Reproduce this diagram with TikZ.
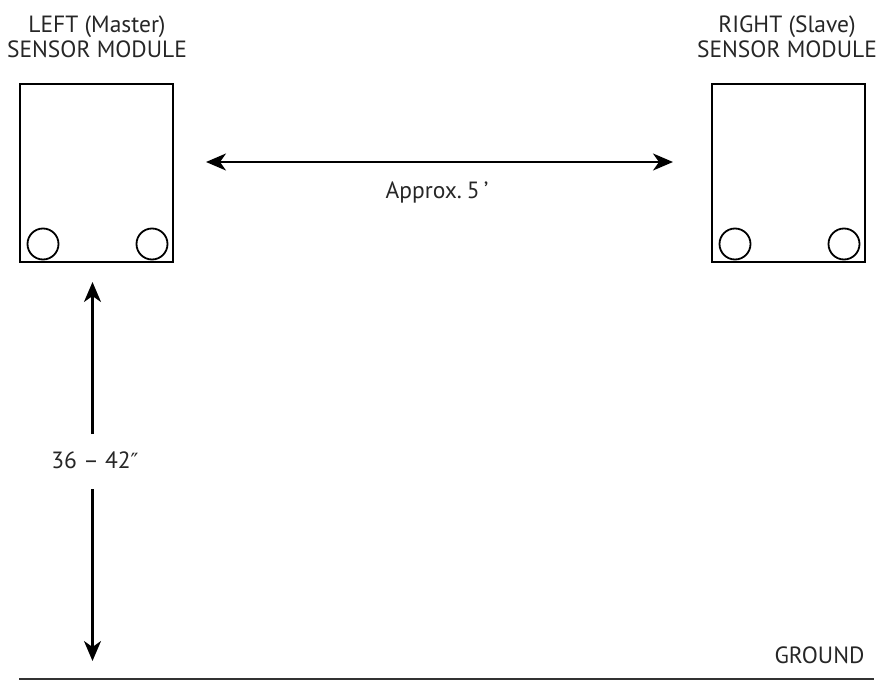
\documentclass[tikz,border=0pt]{standalone}
\usepackage{fontspec}
\setmainfont{PT Sans}
\newfontfamily\primefont{DejaVu Sans}
\usetikzlibrary{arrows.meta,positioning}
\begin{document}
\begin{tikzpicture}[x=1pt,y=-1pt,
    module/.style={draw, line width=2.2pt, minimum width=153pt, minimum height=178pt, inner sep=0pt},
    lens/.style={draw, line width=1.8pt, circle, minimum size=31pt, inner sep=0pt},
    title/.style={align=center, font=\fontsize{23.5}{25}\selectfont, text=black!85},
    lbl/.style={font=\fontsize{23.5}{25}\selectfont, text=black!85},
    dim/.style={line width=2.2pt, {Stealth[length=20pt,width=17pt,inset=6pt]}-{Stealth[length=20pt,width=17pt,inset=6pt]}},
    tip/.style={line width=2.2pt, -{Stealth[length=20pt,width=17pt,inset=6pt]}}]
    \useasboundingbox (0,0) rectangle (892,680);

    % modules
    \node[module] (left) at (96.5,173) {};
    \node[module] (right) at (788.5,173) {};

    \node[lens] (l1) at (43,244) {};
    \node[lens] (l2) at (152,244) {};
    \node[lens] (r1) at (735,244) {};
    \node[lens] (r2) at (844,244) {};

    \node[title] (lefttitle) at (97,37) {LEFT (Master)\\SENSOR MODULE};
    \node[title] (righttitle) at (787,37) {RIGHT (Slave)\\SENSOR MODULE};

    % spacing
    \coordinate (hl) at (206,162);
    \coordinate (hr) at (673,162);
    \draw[dim] (hl) -- (hr);
    \node[lbl] (dist) at (437,192) {Approx.\hspace{5pt}5\hspace{4pt}’};

    % height
    \coordinate (vtop) at (92.5,282);
    \coordinate (vgapt) at (92.5,434);
    \coordinate (vgapb) at (92.5,489);
    \coordinate (vbot) at (92.5,661);
    \node[lbl] (height) at (95,460) {36 – 42{\primefont\fontsize{21}{25}\selectfont″}};
    \draw[tip] (vgapt) -- (vtop);
    \draw[tip] (vgapb) -- (vbot);

    % ground
    \node[lbl, anchor=east] (ground) at (868,655) {GROUND};
    \coordinate (g1) at (19,679);
    \coordinate (g2) at (874,679);
    \draw[line width=2pt, black!80] (g1) -- (g2);
\end{tikzpicture}
\end{document}
